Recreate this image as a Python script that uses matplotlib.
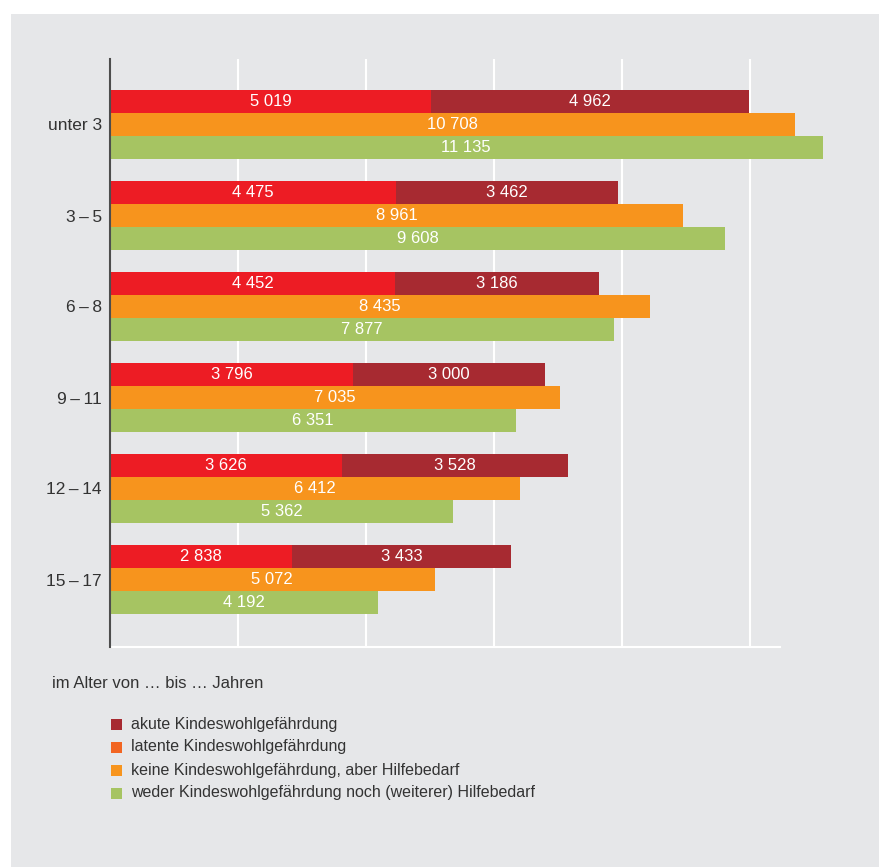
import matplotlib
matplotlib.use("Agg")
import matplotlib.pyplot as plt
from matplotlib.patches import Rectangle
import numpy as np

plt.rcParams["font.family"] = ["Liberation Sans", "DejaVu Sans"]

# Daten
altersgruppen = ["unter 3", "3\u2009\u2013\u20095", "6\u2009\u2013\u20098",
                 "9\u2009\u2013\u200911", "12\u2009\u2013\u200914", "15\u2009\u2013\u200917"]
latent = [5019, 4475, 4452, 3796, 3626, 2838]
akut = [4962, 3462, 3186, 3000, 3528, 3433]
keine = [10708, 8961, 8435, 7035, 6412, 5072]
weder = [11135, 9608, 7877, 6351, 5362, 4192]

legend_labels = [
    "akute Kindeswohlgefährdung",
    "latente Kindeswohlgefährdung",
    "keine Kindeswohlgefährdung, aber Hilfebedarf",
    "weder Kindeswohlgefährdung noch (weiterer) Hilfebedarf",
]

BG = "#e6e7e9"
C_LATENT = "#ed1c24"
C_AKUT = "#a72a31"
C_KEINE = "#f7941d"
C_WEDER = "#a6c462"
C_LEG_LATENT = "#f26522"
TXT = "#333333"


def fmt(v):
    return f"{v:,}".replace(",", " ")


W, H = 883, 867
fig = plt.figure(figsize=(W / 100, H / 100), dpi=100, facecolor="white")
fig.patches.append(Rectangle((11 / W, 0), (879 - 11) / W, 1 - 14 / H,
                             transform=fig.transFigure, facecolor=BG,
                             edgecolor="none", zorder=-5))

ax = fig.add_axes([110 / W, 1 - 647 / H, (780 - 110) / W, (647 - 59) / H])
ax.set_facecolor(BG)

y = np.arange(len(altersgruppen))
h = 23 / 91

lbl = dict(ha="center", va="center", color="white", fontsize=12, zorder=4)
for i in range(len(y)):
    yr = y[i] - h
    ax.barh(yr, latent[i], height=h, color=C_LATENT, clip_on=False, zorder=3)
    ax.barh(yr, akut[i], left=latent[i], height=h, color=C_AKUT, clip_on=False, zorder=3)
    ax.barh(y[i], keine[i], height=h, color=C_KEINE, clip_on=False, zorder=3)
    ax.barh(y[i] + h, weder[i], height=h, color=C_WEDER, clip_on=False, zorder=3)
    ax.text(latent[i] / 2, yr, fmt(latent[i]), **lbl)
    ax.text(latent[i] + akut[i] / 2, yr, fmt(akut[i]), **lbl)
    ax.text(keine[i] / 2, y[i], fmt(keine[i]), **lbl)
    ax.text(weder[i] / 2, y[i] + h, fmt(weder[i]), **lbl)

ax.set_xlim(0, 10470)
ax.set_ylim(5 + 1.5 * h + 33 / 91, -1.5 * h - 31 / 91)
ax.set_xticks([2000, 4000, 6000, 8000, 10000])
ax.set_xticklabels([])
ax.tick_params(axis="x", length=0)
ax.grid(axis="x", color="white", lw=1.5, zorder=1)
ax.set_axisbelow(True)
ax.set_yticks(y)
ax.set_yticklabels(altersgruppen, fontsize=12.5, color=TXT)
ax.tick_params(axis="y", length=0, pad=6)

for s in ["top", "right"]:
    ax.spines[s].set_visible(False)
ax.spines["bottom"].set_color("white")
ax.spines["bottom"].set_linewidth(1.5)
ax.spines["left"].set_color("#4d4d4d")
ax.spines["left"].set_linewidth(1.5)
ax.spines["left"].set_zorder(5)

fig.text(52 / W, 1 - 684 / H, "im Alter von \u2026 bis \u2026 Jahren",
         fontsize=12, color=TXT, va="center", ha="left")

leg_colors = [C_AKUT, C_LEG_LATENT, C_KEINE, C_WEDER]
for k, (lab, col) in enumerate(zip(legend_labels, leg_colors)):
    yc = 724 + k * 23
    fig.patches.append(Rectangle((111 / W, 1 - (yc + 5.5) / H), 11 / W, 11 / H,
                                 transform=fig.transFigure, facecolor=col,
                                 edgecolor="none", zorder=2))
    fig.text(131 / W, 1 - yc / H, lab, fontsize=11.5, color=TXT,
             va="center", ha="left")

fig.savefig("out.png", dpi=100, facecolor="white")
